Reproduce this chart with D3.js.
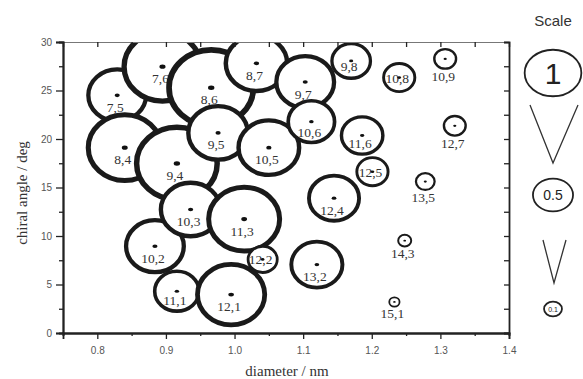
<!DOCTYPE html>
<html>
<head>
<meta charset="utf-8">
<script src="https://cdn.jsdelivr.net/npm/d3@7"></script>
<style>
body { margin: 0; background: #fff; }
text { font-family: "Liberation Serif", "DejaVu Serif", serif; }
.tick text { font-family: "Liberation Sans", Arial, sans-serif; font-size: 10px; fill: #555; }
</style>
</head>
<body>
<script>
var w = 583, h = 379;

// tubes (n,m), sorted by diameter so the later ones lie on top
var labels    = ["7,5","8,4","10,2","7,6","9,4","11,1","10,3","8,6","9,5","12,1","11,3","8,7","12,2","10,5",
                 "9,7","10,6","13,2","12,4","9,8","11,6","12,5","15,1","10,8","14,3","13,5","10,9","12,7"];
var diameters = [0.829,0.840,0.884,0.895,0.916,0.916,0.936,0.966,0.976,0.995,1.014,1.032,1.041,1.050,
                 1.103,1.112,1.120,1.145,1.170,1.186,1.201,1.233,1.240,1.248,1.278,1.307,1.321];
var angles    = [24.50,19.11,8.95,27.46,17.48,4.31,12.73,25.28,20.63,3.96,11.74,27.80,7.59,19.11,
                 25.87,21.79,7.05,13.90,28.05,20.36,16.63,3.20,26.33,9.52,15.61,28.26,21.36];
var intensity = [1.32,2.09,1.32,2.31,2.54,0.79,1.40,2.78,1.40,1.78,1.98,1.49,0.35,1.45,
                 1.32,0.86,1.04,1.00,0.60,0.69,0.40,0.05,0.40,0.077,0.15,0.20,0.20];

var scaleValues = [1, 0.5, 0.1];
var scaleLabels = ["1", "0.5", "0.1"];
var xTicks = [0.8, 0.9, 1.0, 1.1, 1.2, 1.3, 1.4];
var xMinor = [0.75, 0.85, 0.95, 1.05, 1.15, 1.25, 1.35];
var yTicks = [0, 5, 10, 15, 20, 25, 30];
var yMinor = [2.5, 7.5, 12.5, 17.5, 22.5, 27.5];

var data = labels.map(function(l, i) {
	return {label: l, d: diameters[i], a: angles[i], v: intensity[i]};
});

var x = d3.scaleLinear().domain([0.75, 1.4]).range([63, 509]);
var y = d3.scaleLinear().domain([0, 30]).range([333, 42]);
var r = d3.scaleSqrt().domain([0, 1]).range([0, 27]);
var aspect = 0.9;

function sw(d) { return 1.2 + 0.1 * r(d.v); }
function rx(d) { return r(d.v) - sw(d) / 2; }
// label sits inside big rings, under small ones
function labelY(d) {
	var o = r(d.v);
	if (o < 14) return y(d.a) + o * aspect + 11;
	return y(d.a) + Math.max(0, Math.min(12, (o - 16) * 1.2)) + 4.5;
}

var svg = d3.select("body").append("svg")
	.attr("width", w)
	.attr("height", h);

svg.append("clipPath").attr("id", "plot")
	.append("rect")
	.attr("x", 63).attr("y", 42)
	.attr("width", 446).attr("height", 291);

var bubbles = svg.append("g").attr("clip-path", "url(#plot)");

var g = bubbles.selectAll("g.tube")
	.data(data)
	.enter().append("g")
	.attr("class", "tube");

g.append("ellipse")
	.attr("cx", function(d) { return x(d.d); })
	.attr("cy", function(d) { return y(d.a); })
	.attr("rx", rx)
	.attr("ry", function(d) { return rx(d) * aspect; })
	.style("fill", "#fff")
	.style("stroke", "#1a1a1a")
	.style("stroke-width", sw);

g.append("text")
	.attr("x", function(d) { return x(d.d) - 2; })
	.attr("y", labelY)
	.attr("text-anchor", "middle")
	.style("font-size", "13.5px")
	.style("fill", "#333")
	.text(function(d) { return d.label; });

g.append("ellipse")
	.attr("cx", function(d) { return x(d.d); })
	.attr("cy", function(d) { return y(d.a); })
	.attr("rx", function(d) { return Math.min(3.2, 1 + 0.05 * r(d.v)); })
	.attr("ry", function(d) { return Math.min(3.2, 1 + 0.05 * r(d.v)) * 0.7; })
	.style("fill", "#111");

// axes
var axes = svg.append("g");
axes.append("g").attr("transform", "translate(0,333)")
	.call(d3.axisBottom(x).tickValues(xTicks).tickSize(6).tickPadding(8).tickFormat(d3.format(".1f")));
axes.append("g").attr("transform", "translate(0,333)")
	.call(d3.axisBottom(x).tickValues(xMinor).tickSize(3).tickFormat(""));
var topAxis = axes.append("g").attr("transform", "translate(0,42)")
	.call(d3.axisTop(x).tickValues(xTicks.concat(xMinor)).tickSize(-5).tickFormat(""));
axes.append("g").attr("transform", "translate(63,0)")
	.call(d3.axisLeft(y).tickValues(yTicks).tickSize(7).tickPadding(4));
axes.append("g").attr("transform", "translate(63,0)")
	.call(d3.axisLeft(y).tickValues(yMinor).tickSize(4).tickFormat(""));
axes.append("g").attr("transform", "translate(509,0)")
	.call(d3.axisRight(y).tickValues(yTicks.concat(yMinor)).tickSize(-5).tickFormat(""));

axes.selectAll(".domain").style("stroke", "#222").style("stroke-width", 1.8);
axes.selectAll(".tick line").style("stroke", "#222").style("stroke-width", 1.3);
topAxis.select(".domain").style("stroke", "#777").style("stroke-width", 1.2);

svg.append("text")
	.attr("transform", "translate(27,193) rotate(-90)")
	.attr("text-anchor", "middle")
	.style("font-size", "15px")
	.style("fill", "#333")
	.text("chiral angle / deg");

svg.append("text")
	.attr("x", 287).attr("y", 376)
	.attr("text-anchor", "middle")
	.style("font-size", "15px")
	.style("fill", "#333")
	.text("diameter / nm");

// scale legend
var legend = svg.append("g");
legend.append("text")
	.attr("x", 553).attr("y", 26)
	.attr("text-anchor", "middle")
	.style("font-family", "Liberation Sans, Arial, sans-serif")
	.style("font-size", "15px")
	.style("fill", "#333")
	.text("Scale");

var legendY = [73, 195, 309];
var legendFont = [30, 14, 7];
scaleValues.forEach(function(v, i) {
	legend.append("ellipse")
		.attr("cx", 553).attr("cy", legendY[i])
		.attr("rx", r(v) * 1.05).attr("ry", r(v) * 1.05 * 0.82)
		.style("fill", "#fff").style("stroke", "#222").style("stroke-width", 1.8);
	legend.append("text")
		.attr("x", 553).attr("y", legendY[i])
		.attr("dy", "0.36em")
		.attr("text-anchor", "middle")
		.style("font-family", "Liberation Sans, Arial, sans-serif")
		.style("font-size", legendFont[i] + "px")
		.style("fill", "#222")
		.text(scaleLabels[i]);
});

legend.append("path")
	.attr("d", "M530,105L553,163L578,105")
	.style("fill", "none").style("stroke", "#333").style("stroke-width", 1.3);
legend.append("path")
	.attr("d", "M543,240L554,283L566,240")
	.style("fill", "none").style("stroke", "#333").style("stroke-width", 1.3);
</script>
</body>
</html>
